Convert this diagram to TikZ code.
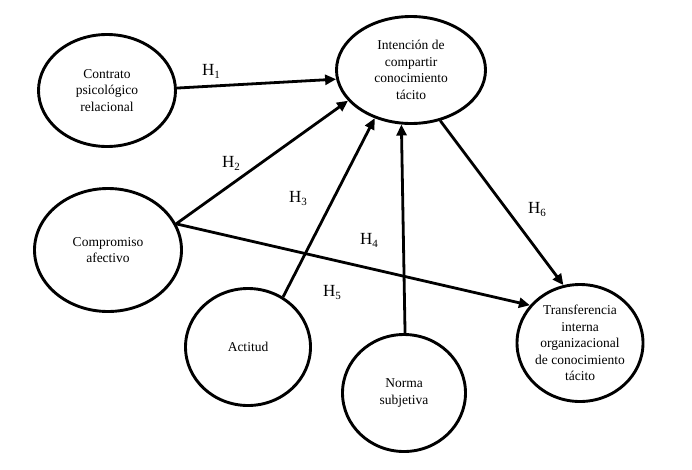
\documentclass[tikz,border=0pt]{standalone}
\usepackage{fontspec}
\setmainfont{Liberation Serif}
\usetikzlibrary{arrows.meta,shapes.geometric}
\newcommand{\hyp}[1]{H\raisebox{-3pt}{\fontsize{11}{11}\selectfont #1}}
\begin{document}
\begin{tikzpicture}[x=1pt,y=-1pt,
  var/.style={draw, ellipse, line width=2.9pt, inner sep=-4pt, align=center,
    font=\fontsize{13.5}{16.5}\selectfont},
  link/.style={line width=2.8pt, -{Triangle[length=11pt,width=10pt]}},
  hlab/.style={anchor=base west, inner sep=0pt, font=\fontsize{17}{17}\selectfont}]
\useasboundingbox (0,0) rectangle (692,469);
\node[var, minimum width=137pt, minimum height=112pt] (C) at (107,90.5) {Contrato\\psicológico\\relacional};
\node[var, minimum width=149pt, minimum height=107pt] (I) at (411,70) {Intención de\\compartir\\conocimiento\\tácito};
\node[var, minimum width=147pt, minimum height=123pt] (A) at (108,250) {Compromiso\\afectivo};
\node[var, minimum width=125pt, minimum height=117pt] (Ac) at (248,347) {Actitud};
\node[var, minimum width=123pt, minimum height=117pt] (N) at (404,393) {Norma\\subjetiva};
\node[var, minimum width=126pt, minimum height=117pt] (T) at (580,343) {Transferencia\\interna\\organizacional\\de conocimiento\\tácito};

\draw[link] (C.2) -- (I.187.5);
\draw[link] (A.21.7) -- (I.206.2);
\draw[link] (Ac.55.5) -- (I.233.3);
\draw[link] (A.21.7) -- (T.143.1);
\draw[link] (N.89) -- (I.260.7);
\draw[link] (I.300.8) -- (T.106.3);

\node[hlab] (h1) at (202,75) {\hyp{1}};
\node[hlab] (h2) at (222,167) {\hyp{2}};
\node[hlab] (h3) at (289,202) {\hyp{3}};
\node[hlab] (h4) at (360,244) {\hyp{4}};
\node[hlab] (h5) at (323,296) {\hyp{5}};
\node[hlab] (h6) at (528,213) {\hyp{6}};
\end{tikzpicture}
\end{document}
